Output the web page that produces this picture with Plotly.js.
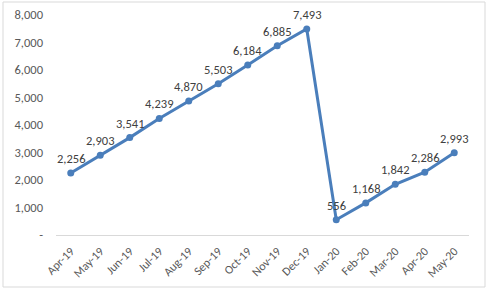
<!DOCTYPE html>
<html><head><meta charset="utf-8">
<script src="https://cdn.plot.ly/plotly-3.0.1.min.js"></script>
<style>html,body{margin:0;padding:0;background:#fff}#c{width:487px;height:291px}</style>
</head><body><div id="c"></div>
<script>
const months = ["Apr-19","May-19","Jun-19","Jul-19","Aug-19","Sep-19","Oct-19","Nov-19","Dec-19","Jan-20","Feb-20","Mar-20","Apr-20","May-20"];
const values = [2256,2903,3541,4239,4870,5503,6184,6885,7493,556,1168,1842,2286,2993];
const yTicks = [0,1000,2000,3000,4000,5000,6000,7000,8000];
const yTickText = ["-","1,000","2,000","3,000","4,000","5,000","6,000","7,000","8,000"];

const L=56,R=18,T=15,B=56,W=487,H=291;
const pw=W-L-R, ph=H-T-B;
const fontFam = "Carlito, Calibri, 'Liberation Sans', Arial, sans-serif";
const labels = months.map((m,i)=>({x:m,y:values[i],xref:'x',yref:'y',
  text:values[i].toLocaleString('en-US'),showarrow:false,yanchor:'bottom',xanchor:'center',
  yshift:6,borderpad:0,font:{family:fontFam,size:12.5,color:'#404040'}}));
Plotly.newPlot('c',[{
  x: months, y: values, type:'scatter', mode:'lines+markers',
  line:{color:'#4a7ebb',width:3},
  marker:{color:'#4a7ebb',size:7},
  cliponaxis:false, hoverinfo:'none'
}],{
  width:W,height:H,
  margin:{l:L,r:R,t:T,b:B,pad:0},
  paper_bgcolor:'#fff',plot_bgcolor:'#fff',
  showlegend:false,
  annotations:labels,
  xaxis:{type:'category',range:[-0.5,13.5],tickangle:-45,showgrid:false,zeroline:false,
    showline:false,ticks:'',ticklabelstandoff:6,tickfont:{family:fontFam,size:12,color:'#595959'}},
  yaxis:{range:[0,8000],tickvals:yTicks,ticktext:yTickText,showgrid:false,zeroline:true,
    zerolinecolor:'#d9d9d9',zerolinewidth:1,showline:false,ticks:'',ticklabelstandoff:12,
    tickfont:{family:fontFam,size:12.5,color:'#595959'}},
  shapes:[{type:'rect',xref:'paper',yref:'paper',
    x0:(3-L)/pw,x1:(485-L)/pw,y0:(T+ph-287)/ph,y1:(T+ph-2)/ph,
    line:{color:'#d9d9d9',width:1},fillcolor:'rgba(0,0,0,0)'}]
},{staticPlot:true});
</script></body></html>
